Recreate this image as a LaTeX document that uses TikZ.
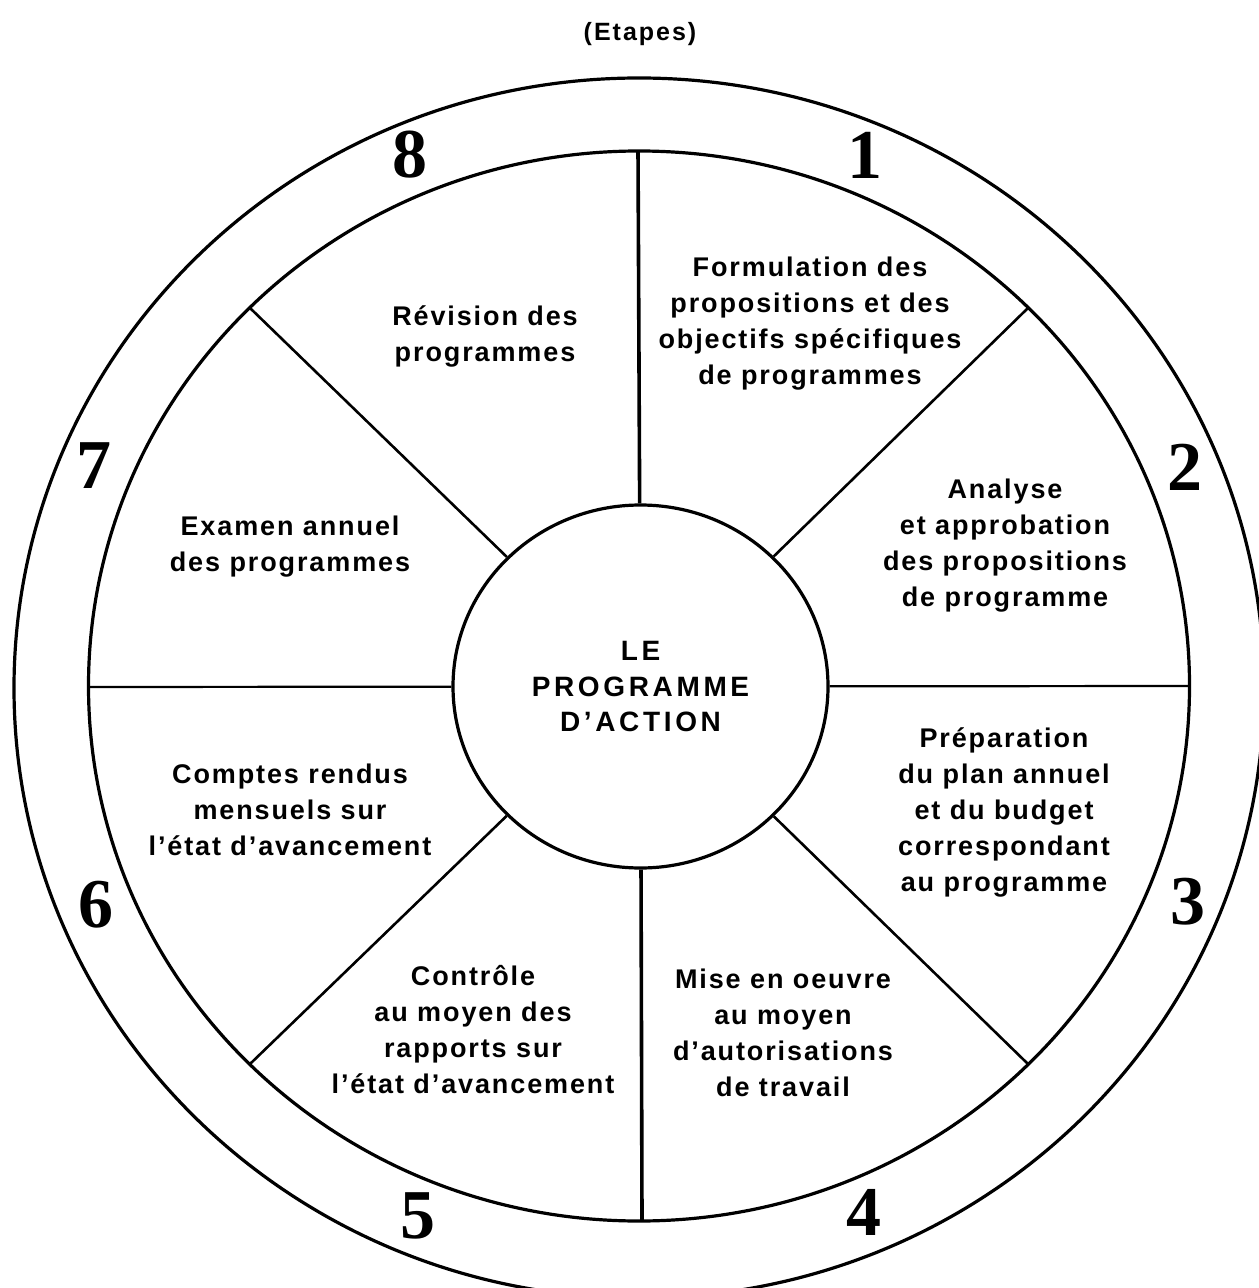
\documentclass[tikz,border=0pt]{standalone}
\usepackage{fontspec}
\usetikzlibrary{shapes.geometric}
\newfontfamily\stagefont{Liberation Sans}[LetterSpace=7]
\newfontfamily\hubfont{Liberation Sans}[LetterSpace=13]
\newfontfamily\titlefont{Liberation Sans}[LetterSpace=8]
\newfontfamily\numfont{Liberation Serif}
\begin{document}
\begin{tikzpicture}[x=0.5pt,y=-0.5pt,
  ring/.style={line width=1.6pt},
  spoke/.style={line width=1.3pt},
  stage/.style={font=\stagefont\bfseries\fontsize{13.5}{18}\selectfont, align=center, inner sep=0pt},
  stepnum/.style={font=\numfont\bfseries\fontsize{35}{35}\selectfont, inner sep=0pt},
]
\useasboundingbox (0,0) rectangle (1258,1288);

% outer band and the wheel
\draw[ring] (639,688) ellipse [x radius=625, y radius=610];
\draw[ring] (639,686) ellipse [x radius=550.5, y radius=535];

% hub
\node[draw, ring, ellipse, minimum width=187.5pt, minimum height=181.5pt,
      inner sep=0pt, align=center,
      font=\hubfont\bfseries\fontsize{14}{17.8}\selectfont] (hub) at (640.5,686.5)
      {LE\\PROGRAMME\\D’ACTION};

% spoke ends on the wheel rim
\coordinate (r90)  at (638,151);
\coordinate (r45)  at (1028,308);
\coordinate (r0)   at (1189,686);
\coordinate (r315) at (1028,1064);
\coordinate (r270) at (642,1221);
\coordinate (r225) at (250,1064);
\coordinate (r180) at (88,687);
\coordinate (r135) at (250,308);

\draw[spoke, line width=1.8pt] (hub) -- (r90);
\draw[spoke, line width=1.8pt] (hub) -- (r270);
\draw[spoke, line width=1.1pt] (hub) -- (r0);
\draw[spoke, line width=1.1pt] (hub) -- (r180);
\draw[spoke] (hub) -- (r45);
\draw[spoke] (hub) -- (r315);
\draw[spoke] (hub) -- (r225);
\draw[spoke] (hub) -- (r135);

% title
\node[font=\titlefont\bfseries\fontsize{12.5}{14}\selectfont, inner sep=0pt] (title) at (640,34) {(Etapes)};

% stage numbers
\node[stepnum] (n1) at (865,155) {1};
\node[stepnum] (n2) at (1185,467) {2};
\node[stepnum] (n3) at (1188,902) {3};
\node[stepnum] (n4) at (864,1212) {4};
\node[stepnum] (n5) at (418,1216) {5};
\node[stepnum] (n6) at (96,905) {6};
\node[stepnum] (n7) at (94,466) {7};
\node[stepnum] (n8) at (410,155) {8};

% stage descriptions
\node[stage] (s1) at (810,324) {Formulation des\\propositions et des\\objectifs spécifiques\\de programmes};
\node[stage] (s2) at (1005,546) {Analyse\\et approbation\\des propositions\\de programme};
\node[stage] (s3) at (1004,812) {Préparation\\du plan annuel\\et du budget\\correspondant\\au programme};
\node[stage] (s4) at (783,1033) {Mise en oeuvre\\au moyen\\d’autorisations\\de travail};
\node[stage] (s5) at (473,1030) {Contrôle\\au moyen des\\rapports sur\\l’état d’avancement};
\node[stage] (s6) at (290,810) {Comptes rendus\\mensuels sur\\l’état d’avancement};
\node[stage] (s7) at (290,547) {Examen annuel\\des programmes};
\node[stage] (s8) at (485,336) {Révision des\\programmes};
\end{tikzpicture}
\end{document}
